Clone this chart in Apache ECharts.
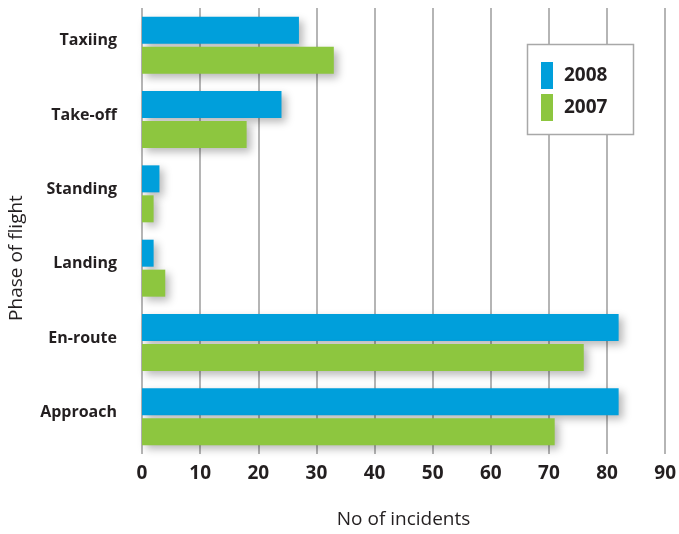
<!DOCTYPE html>
<html>
<head>
<meta charset="utf-8">
<script src="https://cdn.jsdelivr.net/npm/echarts@6/dist/echarts.min.js"></script>
<style>
  html, body { margin: 0; padding: 0; background: #fff; }
  #chart { width: 679px; height: 534px; }
</style>
</head>
<body>
<div id="chart"></div>
<script>
// Incidents by phase of flight, 2008 vs 2007
const phases = ['Taxiing', 'Take-off', 'Standing', 'Landing', 'En-route', 'Approach'];
const incidents2008 = [27, 24, 3, 2, 82, 82];
const incidents2007 = [33, 18, 2, 4, 76, 71];
const xTicks = { min: 0, max: 90, interval: 10 };

const FONT = 'Open Sans';
const TEXT = '#231f20';
const shadow = {
  shadowColor: 'rgba(0,0,0,0.28)',
  shadowBlur: 8,
  shadowOffsetX: 4,
  shadowOffsetY: 4
};

const chart = echarts.init(document.getElementById('chart'));
chart.setOption({
  animation: false,
  backgroundColor: '#fff',
  grid: { left: 142, right: 12, top: 8, bottom: 78, containLabel: false },
  xAxis: {
    type: 'value',
    min: xTicks.min, max: xTicks.max, interval: xTicks.interval,
    axisLine: { show: false },
    axisTick: { show: false },
    splitLine: { show: true, lineStyle: { color: '#9d9d9d', width: 1.5 } },
    axisLabel: { margin: 10, fontFamily: FONT, fontWeight: 'bold', fontSize: 19, color: TEXT },
    name: 'No of incidents',
    nameLocation: 'middle',
    nameGap: 56,
    nameTextStyle: { fontFamily: FONT, fontSize: 19, color: TEXT }
  },
  yAxis: {
    type: 'category',
    data: phases,
    inverse: true,
    axisLine: { show: false },
    axisTick: { show: false },
    splitLine: { show: false },
    axisLabel: {
      margin: 25, fontFamily: FONT, fontWeight: 'bold', fontSize: 16, color: TEXT,
      verticalAlign: 'bottom', lineHeight: 9
    }
  },
  legend: {
    orient: 'vertical',
    left: 541,
    top: 62,
    z: 10,
    icon: 'rect',
    itemWidth: 12,
    itemHeight: 27,
    itemGap: 5,
    padding: 0,
    textStyle: { fontFamily: FONT, fontWeight: 'bold', fontSize: 19, color: TEXT, padding: [0, 0, 0, 6] },
    data: ['2008', '2007']
  },
  graphic: [
    {
      type: 'rect',
      z: 5,
      shape: { x: 527.5, y: 44.5, width: 106, height: 90 },
      style: { fill: '#fff', stroke: '#a8a8a8', lineWidth: 1.5 }
    },
    {
      // vertical axis title
      type: 'text',
      x: 17, y: 258,
      rotation: Math.PI / 2,
      style: {
        text: 'Phase of flight',
        fontFamily: FONT, fontSize: 19, fill: TEXT,
        align: 'center', verticalAlign: 'middle'
      }
    }
  ],
  series: [
    {
      name: '2008', type: 'bar', data: incidents2008,
      barWidth: 27, barGap: '11%',
      itemStyle: Object.assign({ color: '#009fdb' }, shadow)
    },
    {
      name: '2007', type: 'bar', data: incidents2007,
      barWidth: 27, barGap: '11%',
      itemStyle: Object.assign({ color: '#8dc63f' }, shadow)
    }
  ]
});
</script>
</body>
</html>
